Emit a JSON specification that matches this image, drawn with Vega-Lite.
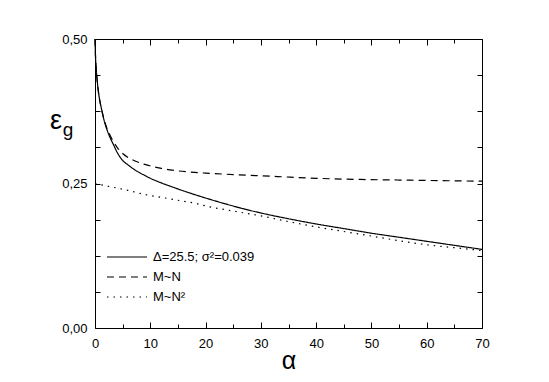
{
  "$schema": "https://vega.github.io/schema/vega-lite/v6.json",
  "width": 387,
  "height": 289,
  "autosize": "none",
  "padding": {"left": 95, "top": 39, "right": 67, "bottom": 54},
  "background": "white",
  "config": {
    "view": {"stroke": "black", "strokeWidth": 1},
    "font": "Liberation Sans",
    "axis": {"grid": false, "domain": false, "tickColor": "black", "labelColor": "black", "titleColor": "black", "labelFont": "Liberation Sans", "titleFont": "Liberation Sans", "labelFontSize": 13, "titleFontWeight": "normal", "tickWidth": 1},
    "legend": {"labelFont": "Liberation Sans", "labelFontSize": 13, "labelColor": "black"}
  },
  "data": {"values": [
    {"s": "Δ=25.5; σ²=0.039", "x": 0, "y": 0.5},
    {"s": "Δ=25.5; σ²=0.039", "x": 0.1, "y": 0.468},
    {"s": "Δ=25.5; σ²=0.039", "x": 0.25, "y": 0.445},
    {"s": "Δ=25.5; σ²=0.039", "x": 0.5, "y": 0.418},
    {"s": "Δ=25.5; σ²=0.039", "x": 0.8, "y": 0.397},
    {"s": "Δ=25.5; σ²=0.039", "x": 1.2, "y": 0.378},
    {"s": "Δ=25.5; σ²=0.039", "x": 1.6, "y": 0.361},
    {"s": "Δ=25.5; σ²=0.039", "x": 2.1, "y": 0.345},
    {"s": "Δ=25.5; σ²=0.039", "x": 2.7, "y": 0.33},
    {"s": "Δ=25.5; σ²=0.039", "x": 3.3, "y": 0.318},
    {"s": "Δ=25.5; σ²=0.039", "x": 4, "y": 0.304},
    {"s": "Δ=25.5; σ²=0.039", "x": 5, "y": 0.29},
    {"s": "Δ=25.5; σ²=0.039", "x": 6, "y": 0.282},
    {"s": "Δ=25.5; σ²=0.039", "x": 7, "y": 0.275},
    {"s": "Δ=25.5; σ²=0.039", "x": 8, "y": 0.269},
    {"s": "Δ=25.5; σ²=0.039", "x": 9, "y": 0.264},
    {"s": "Δ=25.5; σ²=0.039", "x": 10, "y": 0.259},
    {"s": "Δ=25.5; σ²=0.039", "x": 12, "y": 0.251},
    {"s": "Δ=25.5; σ²=0.039", "x": 14, "y": 0.244},
    {"s": "Δ=25.5; σ²=0.039", "x": 17, "y": 0.234},
    {"s": "Δ=25.5; σ²=0.039", "x": 21, "y": 0.222},
    {"s": "Δ=25.5; σ²=0.039", "x": 25, "y": 0.211},
    {"s": "Δ=25.5; σ²=0.039", "x": 30, "y": 0.199},
    {"s": "Δ=25.5; σ²=0.039", "x": 35, "y": 0.189},
    {"s": "Δ=25.5; σ²=0.039", "x": 40, "y": 0.18},
    {"s": "Δ=25.5; σ²=0.039", "x": 45, "y": 0.172},
    {"s": "Δ=25.5; σ²=0.039", "x": 50, "y": 0.164},
    {"s": "Δ=25.5; σ²=0.039", "x": 55, "y": 0.157},
    {"s": "Δ=25.5; σ²=0.039", "x": 60, "y": 0.15},
    {"s": "Δ=25.5; σ²=0.039", "x": 65, "y": 0.143},
    {"s": "Δ=25.5; σ²=0.039", "x": 70, "y": 0.136},
    {"s": "M~N", "x": 0, "y": 0.5},
    {"s": "M~N", "x": 0.1, "y": 0.468},
    {"s": "M~N", "x": 0.25, "y": 0.445},
    {"s": "M~N", "x": 0.5, "y": 0.418},
    {"s": "M~N", "x": 0.8, "y": 0.397},
    {"s": "M~N", "x": 1.2, "y": 0.378},
    {"s": "M~N", "x": 1.6, "y": 0.362},
    {"s": "M~N", "x": 2.1, "y": 0.347},
    {"s": "M~N", "x": 2.7, "y": 0.334},
    {"s": "M~N", "x": 3.3, "y": 0.323},
    {"s": "M~N", "x": 4.2, "y": 0.31},
    {"s": "M~N", "x": 5, "y": 0.302},
    {"s": "M~N", "x": 6, "y": 0.295},
    {"s": "M~N", "x": 7.5, "y": 0.288},
    {"s": "M~N", "x": 9, "y": 0.283},
    {"s": "M~N", "x": 11.5, "y": 0.277},
    {"s": "M~N", "x": 14, "y": 0.273},
    {"s": "M~N", "x": 17, "y": 0.27},
    {"s": "M~N", "x": 20, "y": 0.268},
    {"s": "M~N", "x": 26, "y": 0.265},
    {"s": "M~N", "x": 33, "y": 0.262},
    {"s": "M~N", "x": 40, "y": 0.259},
    {"s": "M~N", "x": 48, "y": 0.257},
    {"s": "M~N", "x": 55, "y": 0.256},
    {"s": "M~N", "x": 62, "y": 0.255},
    {"s": "M~N", "x": 70, "y": 0.254},
    {"s": "M~N²", "x": 0, "y": 0.25},
    {"s": "M~N²", "x": 3, "y": 0.244},
    {"s": "M~N²", "x": 6, "y": 0.238},
    {"s": "M~N²", "x": 9, "y": 0.231},
    {"s": "M~N²", "x": 12, "y": 0.226},
    {"s": "M~N²", "x": 15, "y": 0.221},
    {"s": "M~N²", "x": 18, "y": 0.216},
    {"s": "M~N²", "x": 21, "y": 0.209},
    {"s": "M~N²", "x": 24, "y": 0.204},
    {"s": "M~N²", "x": 27, "y": 0.199},
    {"s": "M~N²", "x": 30, "y": 0.194},
    {"s": "M~N²", "x": 35, "y": 0.184},
    {"s": "M~N²", "x": 40, "y": 0.175},
    {"s": "M~N²", "x": 45, "y": 0.167},
    {"s": "M~N²", "x": 50, "y": 0.159},
    {"s": "M~N²", "x": 55, "y": 0.151},
    {"s": "M~N²", "x": 60, "y": 0.144},
    {"s": "M~N²", "x": 65, "y": 0.139},
    {"s": "M~N²", "x": 70, "y": 0.134}
  ]},
  "resolve": {"axis": {"x": "independent", "y": "independent"}},
  "layer": [
    {
      "mark": {"type": "line", "color": "black", "strokeWidth": 1.2, "interpolate": "monotone"},
      "encoding": {
        "x": {"field": "x", "type": "quantitative", "scale": {"domain": [0, 70], "nice": false},
          "axis": {"orient": "bottom", "values": [0, 10, 20, 30, 40, 50, 60, 70], "tickSize": -6, "labelPadding": 15, "title": "α", "titleFontSize": 25, "titleX": 193.5, "titleY": 40, "titleAlign": "center", "titleBaseline": "alphabetic", "labelFlush": false}},
        "y": {"field": "y", "type": "quantitative", "scale": {"domain": [0, 0.5], "nice": false},
          "axis": {"orient": "left", "values": [0, 0.0625, 0.125, 0.1875, 0.25, 0.3125, 0.375, 0.4375, 0.5], "tickSize": -5, "labelPadding": 13, "labelExpr": "abs(datum.value*4 - round(datum.value*4)) < 0.000001 ? replace(format(datum.value, '.2f'), '.', ',') : ''", "labelFlush": false, "title": "ε", "titleFontSize": 27, "titleAngle": 0, "titleX": -39.5, "titleY": 89, "titleAlign": "center", "titleBaseline": "alphabetic"}},
        "strokeDash": {"field": "s", "type": "nominal",
          "scale": {"domain": ["Δ=25.5; σ²=0.039", "M~N", "M~N²"], "range": [[1, 0], [7, 5], [1.5, 5]]},
          "legend": {"title": null, "orient": "none", "legendX": 21, "legendY": 207, "padding": 0, "symbolType": "M-2,0H2", "symbolSize": 400, "symbolStrokeColor": "black", "symbolStrokeWidth": 1.2, "labelOffset": 15, "rowPadding": 2}}
      }
    },
    {
      "mark": {"type": "point", "opacity": 0},
      "encoding": {
        "x": {"field": "x", "type": "quantitative", "scale": {"domain": [0, 70], "nice": false},
          "axis": {"orient": "bottom", "values": [5, 15, 25, 35, 45, 55, 65], "tickSize": -4, "labels": false, "title": null}},
        "y": {"field": "y", "type": "quantitative", "scale": {"domain": [0, 0.5], "nice": false},
          "axis": {"orient": "right", "values": [0, 0.0625, 0.125, 0.1875, 0.25, 0.3125, 0.375, 0.4375, 0.5], "tickSize": -5, "labels": false, "title": null}}
      }
    },
    {
      "mark": {"type": "point", "opacity": 0},
      "encoding": {
        "x": {"field": "x", "type": "quantitative", "scale": {"domain": [0, 70], "nice": false},
          "axis": {"orient": "top", "values": [0, 10, 20, 30, 40, 50, 60, 70], "tickSize": -6, "labels": false, "title": null}},
        "y": {"field": "y", "type": "quantitative", "scale": {"domain": [0, 0.5], "nice": false},
          "axis": {"orient": "left", "ticks": false, "labels": false, "title": "g", "titleFontSize": 19, "titleAngle": 0, "titleX": -27.5, "titleY": 96, "titleAlign": "center", "titleBaseline": "alphabetic"}}
      }
    },
    {
      "mark": {"type": "point", "opacity": 0},
      "encoding": {
        "x": {"field": "x", "type": "quantitative", "scale": {"domain": [0, 70], "nice": false},
          "axis": {"orient": "top", "values": [5, 15, 25, 35, 45, 55, 65], "tickSize": -4, "labels": false, "title": null}},
        "y": {"field": "y", "type": "quantitative", "scale": {"domain": [0, 0.5], "nice": false}, "axis": null}
      }
    }
  ]
}
